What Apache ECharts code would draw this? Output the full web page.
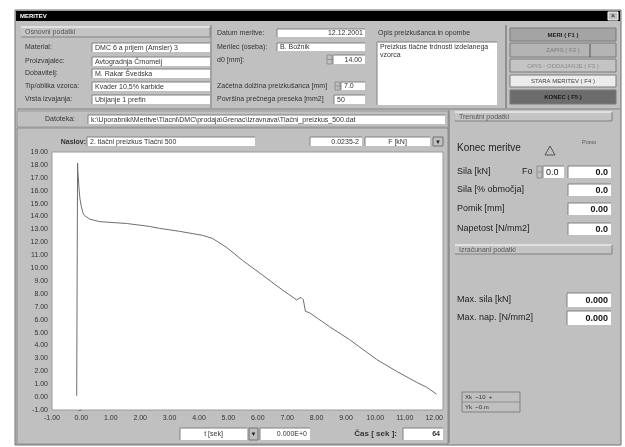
<!DOCTYPE html>
<html>
<head>
<meta charset="utf-8">
<script src="https://cdn.jsdelivr.net/npm/echarts@6/dist/echarts.min.js"></script>
<style>
  html, body { margin: 0; padding: 0; background: #ffffff; }
  #chart { width: 625px; height: 447px; }
</style>
</head>
<body>
<div id="chart"></div>
<script>
// Measured force against time for the compression test
const timeSec = [-0.16, -0.13, -0.13, -0.12, -0.08, -0.05, -0.01, 0.05, 0.10, 0.28, 0.62, 1.53, 2.32, 2.66, 3.34, 4.12, 4.46, 4.94, 5.48, 6.16, 6.84, 7.32, 7.47, 7.55, 7.62, 7.76, 8.44, 9.12, 10.04, 10.72, 11.40, 11.74, 12.08];
const forceKN = [0.10, 0.00, 18.15, 17.50, 16.15, 15.40, 14.85, 14.30, 14.08, 13.80, 13.60, 13.46, 13.23, 13.08, 12.85, 12.54, 12.30, 11.60, 10.60, 9.46, 8.30, 7.54, 7.73, 7.54, 6.65, 6.54, 5.46, 4.46, 2.92, 2.00, 1.15, 0.77, 0.23];

// Axis ranges (tick step of one unit)
const xRange = [-1, 12.3];
const yRange = [-1, 19];

// Form fields shown around the graph
const basicLabels = ['Material:', 'Proizvajalec:', 'Dobavitelj:', 'Tip/oblika vzorca:', 'Vrsta izvajanja:'];
const basicValues = ['DMC 6 a prijem (Amsler) 3', 'Avtogradnja Črnomelj', 'M. Rakar Švedska', 'Kvader 10,5% karbide', 'Ubijanje 1 prefin'];
const buttonTexts = ['MERI ( F1 )', 'ZAPIS ( F2 )', 'OPIS - ODDAJANJE ( F3 )', 'STARA MERITEV ( F4 )', 'KONEC ( F5 )'];
const currentLabels = ['Sila [kN]', 'Sila [% območja]', 'Pomik [mm]', 'Napetost [N/mm2]'];
const currentValues = ['0.0', '0.0', '0.00', '0.0'];
const maxLabels = ['Max. sila [kN]', 'Max. nap. [N/mm2]'];
const maxValues = ['0.000', '0.000'];

const FONT = '"Liberation Sans", Arial, sans-serif';
const els = [];

function rect(x, y, w, h, fill, stroke, z) {
  els.push({ type: 'rect', silent: true, z: z == null ? 5 : z,
    shape: { x: x, y: y, width: w, height: h },
    style: { fill: fill, stroke: stroke || null, lineWidth: stroke ? 1 : 0 } });
}
function line(x1, y1, x2, y2, color, z) {
  els.push({ type: 'line', silent: true, z: z == null ? 6 : z,
    shape: { x1: x1, y1: y1, x2: x2, y2: y2 },
    style: { stroke: color, lineWidth: 1 } });
}
function txt(x, y, s, size, opts) {
  opts = opts || {};
  const font = (opts.bold ? 'bold ' : '') + size + 'px ' + FONT;
  els.push({ type: 'text', silent: true, z: 8,
    style: { x: x, y: y, text: s, font: font, fill: opts.color || '#333333',
      align: opts.align || 'left', textAlign: opts.align || 'left',
      verticalAlign: 'middle', textVerticalAlign: 'middle' } });
}
// white entry field with a sunken edge
function field(x, y, w, h, s, size, opts) {
  rect(x, y, w, h, '#ffffff', null, 6);
  line(x, y, x + w, y, '#808080', 7);
  line(x, y, x, y + h, '#808080', 7);
  if (s) {
    opts = opts || {};
    const tx = opts.align === 'right' ? x + w - 3 : (opts.align === 'center' ? x + w / 2 : x + 3);
    txt(tx, y + h / 2 + 0.5, s, size, opts);
  }
}
// group header strip
function header(x, y, w, h, s) {
  rect(x, y, w, h, '#c4c4c4', null, 6);
  line(x, y, x + w, y, '#ffffff', 7);
  line(x, y + h, x + w, y + h, '#808080', 7);
  line(x + w, y, x + w, y + h, '#808080', 7);
  txt(x + 4, y + h / 2 + 0.5, s, 7, { color: '#555555' });
}
function spinner(x, y, h) {
  rect(x, y, 5, h, '#c0c0c0', '#909090', 6);
  line(x, y + h / 2, x + 5, y + h / 2, '#909090', 7);
}

// window frame and title bar
rect(15, 10, 606, 435, '#c0c0c0', '#707070', -10);
rect(16, 11, 604, 10, '#000000', null, -9);
txt(20, 16, 'MERITEV', 6, { bold: true, color: '#ffffff' });
rect(608, 12, 10, 8, '#c0c0c0', '#ffffff', 6);
txt(613, 16, '×', 7, { align: 'center', color: '#000000' });

// basic data group
header(21, 27, 189, 10, 'Osnovni podatki');
basicLabels.forEach(function (l, i) {
  const ys = [43, 57, 69, 82, 95];
  txt(25, ys[i] + 4.5, l, 7);
  field(92, ys[i], 118, 9, basicValues[i], 7);
});
line(211, 25, 211, 108, '#808080');

// measurement data group
txt(217, 33, 'Datum meritve:', 7);
field(277, 29, 88, 8, '', 7);
txt(363, 33, '12.12.2001', 7, { align: 'right' });
txt(217, 47, 'Merilec (oseba):', 7);
field(277, 43, 88, 8, 'B. Božnik', 7);
txt(217, 60, 'd0 [mm]:', 7);
spinner(327, 55, 9);
field(333, 55, 32, 9, '14.00', 7, { align: 'right' });
txt(217, 86, 'Začetna dolžina preizkušanca [mm]', 7);
spinner(335, 82, 8);
field(341, 82, 24, 8, '7.0', 7);
txt(217, 99, 'Površina prečnega preseka [mm2]', 7);
field(334, 95, 31, 9, '50', 7);

// notes group
txt(378, 33, 'Opis preizkušanca in opombe', 7);
field(377, 42, 120, 63, '', 7);
txt(380, 47, 'Preizkus tlačne trdnosti izdelanega', 7);
txt(380, 55, 'vzorca', 7);
line(506, 25, 506, 108, '#606060');

// command buttons
const btnY = [28, 43, 59, 75, 90];
const btnH = [13, 14, 13, 12, 14];
const btnFill = ['#a4a4a4', '#b4b4b4', '#c4c4c4', '#ececec', '#6c6c6c'];
const btnText = ['#222222', '#7a7a7a', '#8a8a8a', '#444444', '#1a1a1a'];
buttonTexts.forEach(function (s, i) {
  rect(510, btnY[i], 106, btnH[i], btnFill[i], '#7a7a7a', 6);
  txt(563, btnY[i] + btnH[i] / 2 + 0.5, s, 6, { align: 'center', bold: i === 0 || i === 4, color: btnText[i] });
});
line(590, 44, 590, 57, '#555555');
line(17, 109, 620, 109, '#808080');

// data file row
rect(17, 111, 431, 16, '#c0c0c0', '#9a9a9a', -8);
txt(75, 119.5, 'Datoteka:', 7, { align: 'right' });
field(88, 115, 357, 9, 'k:\\Uporabniki\\Meritve\\Tlacni\\DMC\\prodaja\\Grenac\\Izravnava\\Tlačni_preizkus_500.dat', 7);

// graph panel
rect(17, 128, 431, 316, '#c0c0c0', '#8a8a8a', -8);
txt(86, 142, 'Naslov:', 7, { align: 'right', bold: true });
field(87, 137, 168, 9, '2. tlačni preizkus Tlačni 500', 7);
field(310, 137, 52, 9, '0.0235-2', 7, { align: 'right' });
field(365, 137, 65, 9, 'F [kN]', 7, { align: 'center' });
rect(433, 137, 10, 9, '#c0c0c0', '#707070', 6);
txt(438, 142, '▼', 6, { align: 'center', color: '#222222' });
field(180, 428, 67, 12, 't [sek]', 7, { align: 'center' });
rect(249, 428, 9, 12, '#c0c0c0', '#707070', 6);
txt(253.5, 434, '▼', 6, { align: 'center', color: '#222222' });
field(260, 428, 50, 12, '0.000E+0', 7, { align: 'right' });
txt(397, 434, 'Čas [ sek ]:', 8, { align: 'right', bold: true });
field(403, 428, 40, 12, '64', 7, { align: 'right', bold: true });

// right-hand panel: current readings
line(449, 110, 449, 443, '#707070');
header(455, 112, 157, 9, 'Trenutni podatki');
txt(457, 148, 'Konec meritve', 10, { color: '#222222' });
els.push({ type: 'polygon', silent: true, z: 8,
  shape: { points: [[550, 146], [545, 155], [555, 155]] },
  style: { fill: 'none', stroke: '#555555', lineWidth: 1 } });
txt(582, 142, 'Pomo', 5.5, { color: '#555555' });
const curY = [166, 184, 203, 223];
currentLabels.forEach(function (l, i) {
  txt(457, curY[i] + 6, l, 9, { color: '#222222' });
  field(568, curY[i], 43, 12, currentValues[i], 9, { align: 'right', bold: true, color: '#111111' });
});
txt(522, 172, 'Fo', 9, { color: '#222222' });
spinner(537, 166, 12);
field(543, 166, 21, 12, '0.0', 9, { color: '#111111' });

// right-hand panel: computed values
header(455, 245, 157, 9, 'Izračunani podatki');
const maxY = [293, 311];
maxLabels.forEach(function (l, i) {
  txt(457, maxY[i] + 7, l, 9, { color: '#222222' });
  field(567, maxY[i], 44, 14, maxValues[i], 9, { align: 'right', bold: true, color: '#111111' });
});
rect(462, 392, 58, 20, '#c0c0c0', '#808080', 6);
line(462, 402, 520, 402, '#909090');
txt(465, 397, 'Xk  ~10  +', 6, { color: '#333333' });
txt(465, 407, 'Yk  ~0.m', 6, { color: '#333333' });

const chart = echarts.init(document.getElementById('chart'), null, { renderer: 'canvas' });
chart.setOption({
  backgroundColor: '#ffffff',
  animation: false,
  grid: { left: 52, top: 152, right: 182, bottom: 37, show: true,
    backgroundColor: '#ffffff', borderColor: '#9a9a9a', borderWidth: 1, z: 1 },
  xAxis: {
    type: 'value', min: xRange[0], max: xRange[1], interval: 1,
    axisLine: { show: false },
    axisTick: { show: true, inside: false, length: 3, lineStyle: { color: '#555555' } },
    splitLine: { show: false },
    axisLabel: { fontSize: 7, fontFamily: FONT, color: '#333333', margin: 5, showMaxLabel: false,
      formatter: function (v) { return v.toFixed(2); } }
  },
  yAxis: {
    type: 'value', min: yRange[0], max: yRange[1], interval: 1,
    axisLine: { show: false },
    axisTick: { show: true, inside: false, length: 3, lineStyle: { color: '#555555' } },
    splitLine: { show: false },
    axisLabel: { fontSize: 7, fontFamily: FONT, color: '#333333', margin: 4,
      formatter: function (v) { return v.toFixed(2); } }
  },
  series: [{
    type: 'line',
    data: timeSec.map(function (t, i) { return [t, forceKN[i]]; }),
    showSymbol: false,
    lineStyle: { color: '#6e6e6e', width: 1 },
    z: 3
  }],
  graphic: { elements: els }
});
</script>
</body>
</html>
